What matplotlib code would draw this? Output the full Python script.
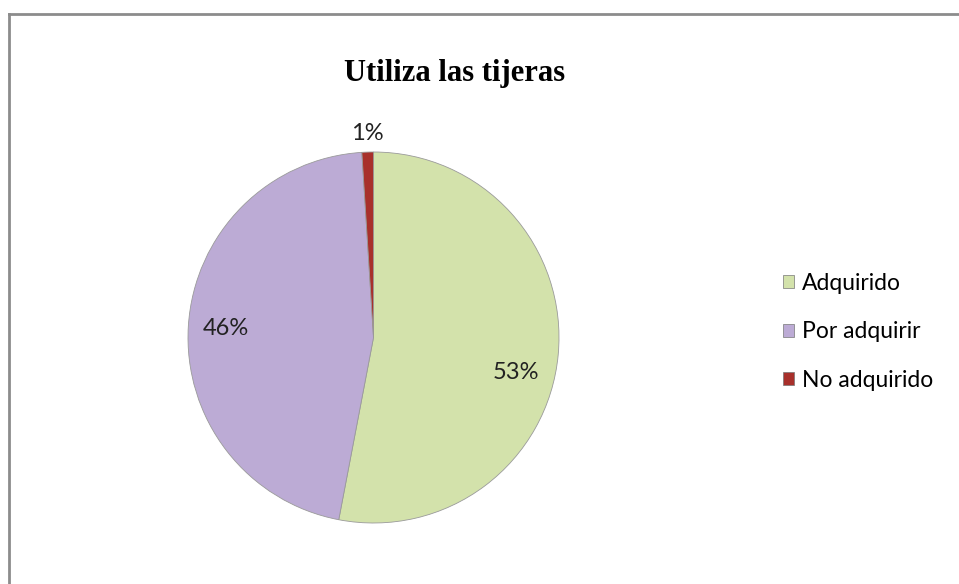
import numpy as np
import matplotlib.pyplot as plt
from matplotlib.lines import Line2D
from matplotlib.patches import Patch

# datos del grafico
categorias = ['Adquirido', 'Por adquirir', 'No adquirido']
porcentajes = [53, 46, 1]
colores = ['#d3e2ab', '#bcabd5', '#a8302b']
titulo = 'Utiliza las tijeras'

plt.rcParams['font.family'] = ['Lato', 'DejaVu Sans']

fig = plt.figure(figsize=(9.59, 5.84), dpi=100)

# marco gris (solo arriba e izquierda visibles)
fig.add_artist(Line2D([9/959, 9/959], [0, 1 - 14/584], transform=fig.transFigure,
                      color='#8c8c8c', lw=2))
fig.add_artist(Line2D([9/959, 1], [1 - 14/584, 1 - 14/584], transform=fig.transFigure,
                      color='#8c8c8c', lw=2))

ax = fig.add_axes([188/959, 61/584, 371/959, 371/584])
wedges, _ = ax.pie(porcentajes, colors=colores, startangle=90, counterclock=False,
                   wedgeprops=dict(edgecolor='#9a9a9a', linewidth=0.6))
ax.set_aspect('equal')
ax.set_xlim(-1, 1)
ax.set_ylim(-1, 1)

# etiquetas de porcentaje (distancia y giro aproximados a la posicion original)
dist = [0.79, 0.80, 1.10]
giro = [-8.4, 0, 0]
for w, p, d, g in zip(wedges, porcentajes, dist, giro):
    ang = np.deg2rad((w.theta1 + w.theta2) / 2 + g)
    ax.text(d * np.cos(ang), d * np.sin(ang), f'{p}%', ha='center', va='center',
            fontsize=17, color='#222222', clip_on=False)

fig.text(455/959, 1 - 73/584, titulo, ha='center', va='center', fontsize=22,
         fontweight='bold', family='Liberation Serif')

handles = [Patch(facecolor=c, edgecolor='#777777', linewidth=0.5) for c in colores]
fig.legend(handles, categorias, loc='center left', bbox_to_anchor=(762/959, 1 - 332/584),
           frameon=False, fontsize=16.5, handlelength=0.5, handleheight=0.5,
           handletextpad=0.35, labelspacing=1.2)

plt.savefig('out.png', dpi=100)
